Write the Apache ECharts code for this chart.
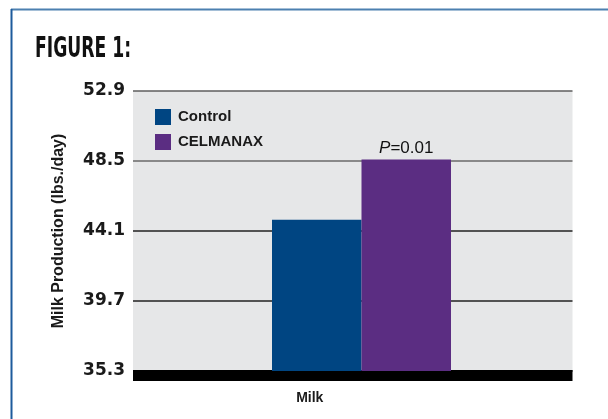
<!DOCTYPE html>
<html>
<head>
<meta charset="utf-8">
<script src="https://cdn.jsdelivr.net/npm/echarts@6/dist/echarts.min.js"></script>
<style>html,body{margin:0;padding:0;background:#fff;}#c{width:608px;height:419px;}</style>
</head>
<body>
<div id="c"></div>
<script>
// ---- data ----
const categories = ['Milk'];
const seriesNames = ['Control', 'CELMANAX'];
const controlValues = [44.8];
const celmanaxValues = [48.6];
const yTickLabels = ['35.3', '39.7', '44.1', '48.5', '52.9'];
const pLabel = ['P', '=0.01'];
const titleText = 'FIGURE 1:';
const yAxisTitle = 'Milk Production (lbs./day)';

// axis scale: ticks every 4.4 starting at 35.3 (offset so ticks start at 0)
const BASE = parseFloat(yTickLabels[0]);
const STEP = +(parseFloat(yTickLabels[1]) - BASE).toFixed(2);
const TOP = +(parseFloat(yTickLabels[yTickLabels.length - 1]) - BASE).toFixed(2);
const shift = arr => arr.map(v => +(v - BASE).toFixed(3));

const chart = echarts.init(document.getElementById('c'), null, {renderer: 'canvas'});
chart.setOption({
  animation: false,
  backgroundColor: '#ffffff',
  graphic: [
    {type: 'line', shape: {x1: 11, y1: 9.5, x2: 608, y2: 9.5}, style: {stroke: '#4d80b0', lineWidth: 2}, z: 10},
    {type: 'line', shape: {x1: 11.5, y1: 9, x2: 11.5, y2: 419}, style: {stroke: '#1d5b9c', lineWidth: 2}, z: 10},
    {type: 'text', x: 35, y: 35, scaleX: 0.66,
     style: {text: titleText, font: 'bold 29px "DejaVu Sans Condensed", sans-serif', fill: '#111'}}
  ],
  legend: {
    data: seriesNames,
    orient: 'vertical',
    left: 150, top: 104,
    itemWidth: 16, itemHeight: 16, itemGap: 9,
    icon: 'rect',
    textStyle: {fontFamily: '"Liberation Sans", Arial, sans-serif', fontWeight: 'bold', fontSize: 15, color: '#1a1a1a', padding: [0, 0, 0, 2]}
  },
  grid: [
    {left: 133, right: 35.5, top: 91, bottom: 48, backgroundColor: '#e6e7e8', show: true, borderWidth: 0},
    {left: 141.75, right: 26.75, top: 91, bottom: 48, show: false}
  ],
  xAxis: [
    {
      type: 'category', gridIndex: 0,
      data: categories,
      offset: 4.5,
      axisLine: {onZero: false, lineStyle: {color: '#000', width: 11, cap: 'butt'}},
      axisTick: {show: false},
      axisLabel: {margin: 16, fontFamily: '"Liberation Sans", Arial, sans-serif', fontWeight: 'bold', fontSize: 14, color: '#1a1a1a', padding: [0, 86, 0, 0]}
    },
    {type: 'category', gridIndex: 1, data: categories, show: false}
  ],
  yAxis: [
    {
      type: 'value', gridIndex: 0,
      min: 0, max: TOP, interval: STEP,
      name: yAxisTitle,
      nameLocation: 'middle',
      nameGap: 66,
      nameRotate: 90,
      nameTextStyle: {fontFamily: '"Liberation Sans", Arial, sans-serif', fontWeight: 'bold', fontSize: 16, color: '#1a1a1a'},
      axisLine: {show: false},
      axisTick: {show: false},
      axisLabel: {
        margin: 8,
        fontFamily: '"DejaVu Sans", sans-serif', fontWeight: 'bold', fontSize: 17, color: '#1a1a1a',
        formatter: v => yTickLabels[Math.round(v / STEP)]
      },
      splitLine: {lineStyle: {color: ['#000', '#222', '#222', '#6a6a6a', '#5e5e5e'], width: 1.6}}
    },
    {type: 'value', gridIndex: 1, min: 0, max: TOP, interval: STEP, show: false, splitLine: {show: false}}
  ],
  series: [
    {
      name: seriesNames[0], type: 'bar', data: shift(controlValues),
      xAxisIndex: 1, yAxisIndex: 1,
      barWidth: 89.5, barGap: '0%',
      itemStyle: {color: '#004582'}
    },
    {
      name: seriesNames[1], type: 'bar', data: shift(celmanaxValues),
      xAxisIndex: 1, yAxisIndex: 1,
      barWidth: 89.5, barGap: '0%',
      itemStyle: {color: '#5b2d82'},
      label: {
        show: true, position: 'top', distance: 3,
        formatter: '{i|' + pLabel[0] + '}' + pLabel[1],
        fontFamily: '"Liberation Sans", Arial, sans-serif', fontSize: 17, color: '#111',
        rich: {i: {fontStyle: 'italic', fontFamily: '"Liberation Sans", Arial, sans-serif', fontSize: 17, color: '#111'}}
      }
    }
  ]
});
</script>
</body>
</html>
